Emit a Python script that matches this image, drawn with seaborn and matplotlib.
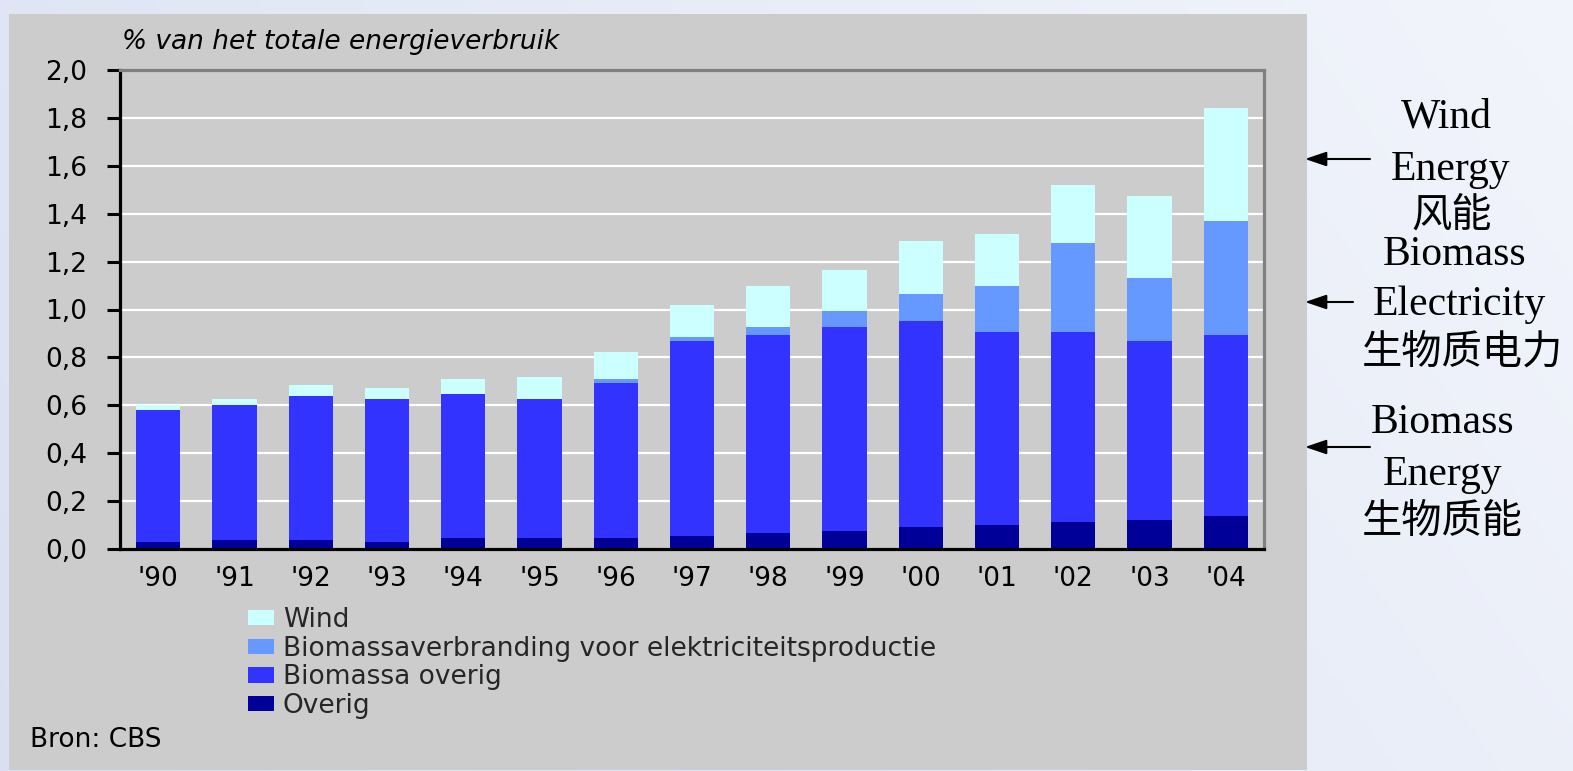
import numpy as np
import pandas as pd
import matplotlib
matplotlib.use("Agg")
import matplotlib.pyplot as plt
from matplotlib.patches import Rectangle, Patch
from matplotlib.ticker import FuncFormatter
import seaborn as sns

# Share of renewable sources in total Dutch energy use (%), 1990-2004
years = ["'90", "'91", "'92", "'93", "'94", "'95", "'96", "'97",
         "'98", "'99", "'00", "'01", "'02", "'03", "'04"]
overig = [0.029, 0.038, 0.038, 0.029, 0.046, 0.046, 0.046, 0.054,
          0.067, 0.075, 0.092, 0.100, 0.113, 0.121, 0.138]
biomassa_overig = [0.553, 0.564, 0.602, 0.599, 0.603, 0.582, 0.649, 0.816,
                   0.828, 0.850, 0.862, 0.808, 0.795, 0.749, 0.757]
biomassa_elektriciteit = [0.0, 0.0, 0.0, 0.0, 0.0, 0.0, 0.016, 0.017,
                          0.030, 0.067, 0.109, 0.192, 0.368, 0.260, 0.473]
wind = [0.021, 0.026, 0.046, 0.046, 0.062, 0.092, 0.113, 0.130,
        0.175, 0.175, 0.222, 0.214, 0.243, 0.343, 0.473]

series_labels = ["Wind",
                 "Biomassaverbranding voor elektriciteitsproductie",
                 "Biomassa overig",
                 "Overig"]
series_colors = ["#CCFFFF", "#6699FF", "#3333FF", "#000099"]
y_ticks = [0.0, 0.2, 0.4, 0.6, 0.8, 1.0, 1.2, 1.4, 1.6, 1.8, 2.0]

side_notes = [
    ("Wind", 1446, 128, "serif"),
    ("Energy", 1450, 180, "serif"),
    ("风能", 1452, 227, "cjk"),
    ("Biomass", 1455, 265, "serif"),
    ("Electricity", 1459, 315, "serif"),
    ("生物质电力", 1462, 364, "cjk"),
    ("Biomass", 1443, 433, "serif"),
    ("Energy", 1443, 485, "serif"),
    ("生物质能", 1442, 533, "cjk"),
]
arrow_rows = [159, 302, 447]
arrow_starts = [1370, 1353, 1370]

sns.set_style("white")
plt.rcParams["font.family"] = ["DejaVu Sans"]

W, H = 1573, 771
fig = plt.figure(figsize=(W / 100, H / 100), dpi=100)

# slide background: soft blue gradient
bg = fig.add_axes([0, 0, 1, 1], zorder=-10)
gx = np.linspace(0, 1, 400)
gy = np.linspace(0, 1, 200)
GX, GY = np.meshgrid(gx, gy)
t = np.clip(0.75 * GX + 0.25 * GY, 0, 1)
c0 = np.array([0.85, 0.88, 0.95])
c1 = np.array([0.95, 0.96, 0.985])
img = c0[None, None, :] * (1 - t[..., None]) + c1[None, None, :] * t[..., None]
bg.imshow(img, extent=[0, 1, 0, 1], aspect="auto", origin="lower")
bg.set_xlim(0, 1)
bg.set_ylim(0, 1)
bg.axis("off")

# grey chart panel
fig.patches.append(Rectangle((9 / W, 1 - 770 / H), (1307 - 9) / W, (770 - 14) / H,
                             transform=fig.transFigure, facecolor="#CCCCCC",
                             edgecolor="none", zorder=-5))

ax = fig.add_axes([120 / W, 1 - 549 / H, (1264 - 120) / W, (549 - 70) / H])
ax.set_facecolor("#CCCCCC")

df = pd.DataFrame({
    "jaar": years,
    "Overig": overig,
    "Biomassa overig": biomassa_overig,
    "Biomassaverbranding voor elektriciteitsproductie": biomassa_elektriciteit,
    "Wind": wind,
})

stack_order = ["Overig", "Biomassa overig",
               "Biomassaverbranding voor elektriciteitsproductie", "Wind"]
color_of = dict(zip(series_labels, series_colors))
bottom = np.zeros(len(years))
for col in stack_order:
    sns.barplot(data=df, x="jaar", y=col, order=years, bottom=bottom,
                color=color_of[col], saturation=1, width=0.58,
                linewidth=0, edgecolor="none", ax=ax, zorder=3)
    bottom = bottom + df[col].to_numpy()

ax.set_xlabel("")
ax.set_ylabel("")
ax.set_xlim(-0.5, len(years) - 0.5)
ax.set_ylim(0, 2.0)
ax.set_yticks(y_ticks)
ax.yaxis.set_major_formatter(FuncFormatter(lambda v, p: f"{v:.1f}".replace(".", ",")))
ax.yaxis.grid(True, color="white", linewidth=1.6, zorder=1)
ax.xaxis.grid(False)
ax.set_axisbelow(True)

for side in ("left", "bottom"):
    ax.spines[side].set_color("black")
    ax.spines[side].set_linewidth(2.3)
for side in ("top", "right"):
    ax.spines[side].set_color("#808080")
    ax.spines[side].set_linewidth(2.3)
for sp in ax.spines.values():
    sp.set_zorder(5)

ax.tick_params(axis="y", left=True, length=9.5, width=2.2, color="black",
               direction="out", pad=14, labelsize=19, labelcolor="black")
ax.tick_params(axis="x", bottom=False, length=0, pad=12, labelsize=19,
               labelcolor="black")

fig.text(122 / W, 1 - 42 / H, "% van het totale energieverbruik",
         fontstyle="italic", fontsize=19, va="center", ha="left", color="black")

handles = [Patch(facecolor=c, edgecolor="none") for c in series_colors]
fig.legend(handles, series_labels, loc="upper left",
           bbox_to_anchor=(248 / W, 1 - 607 / H), frameon=False, fontsize=19,
           handlelength=0.98, handleheight=0.53, handletextpad=0.34,
           labelspacing=0.1, borderpad=0, borderaxespad=0)

fig.text(30 / W, 1 - 740 / H, "Bron: CBS", fontsize=19, va="center",
         ha="left", color="black")

# English / Chinese captions to the right of the chart
for label, cx, base, kind in side_notes:
    if kind == "serif":
        fig.text(cx / W, 1 - base / H, label, family=["Liberation Serif"],
                 fontsize=30, ha="center", va="baseline", color="black")
    else:
        fig.text(cx / W, 1 - base / H, label,
                 family=["Noto Sans CJK SC", "DejaVu Sans"],
                 fontsize=29, ha="center", va="baseline", color="black")

for row, x0 in zip(arrow_rows, arrow_starts):
    ax.annotate("", xy=(1305, H - row), xytext=(x0, H - row),
                xycoords="figure pixels", textcoords="figure pixels",
                annotation_clip=False,
                arrowprops=dict(arrowstyle="-|>,head_length=0.65,head_width=0.22",
                                color="black", lw=1.5, mutation_scale=20,
                                shrinkA=0, shrinkB=0))

fig.savefig("out.png", dpi=100)
